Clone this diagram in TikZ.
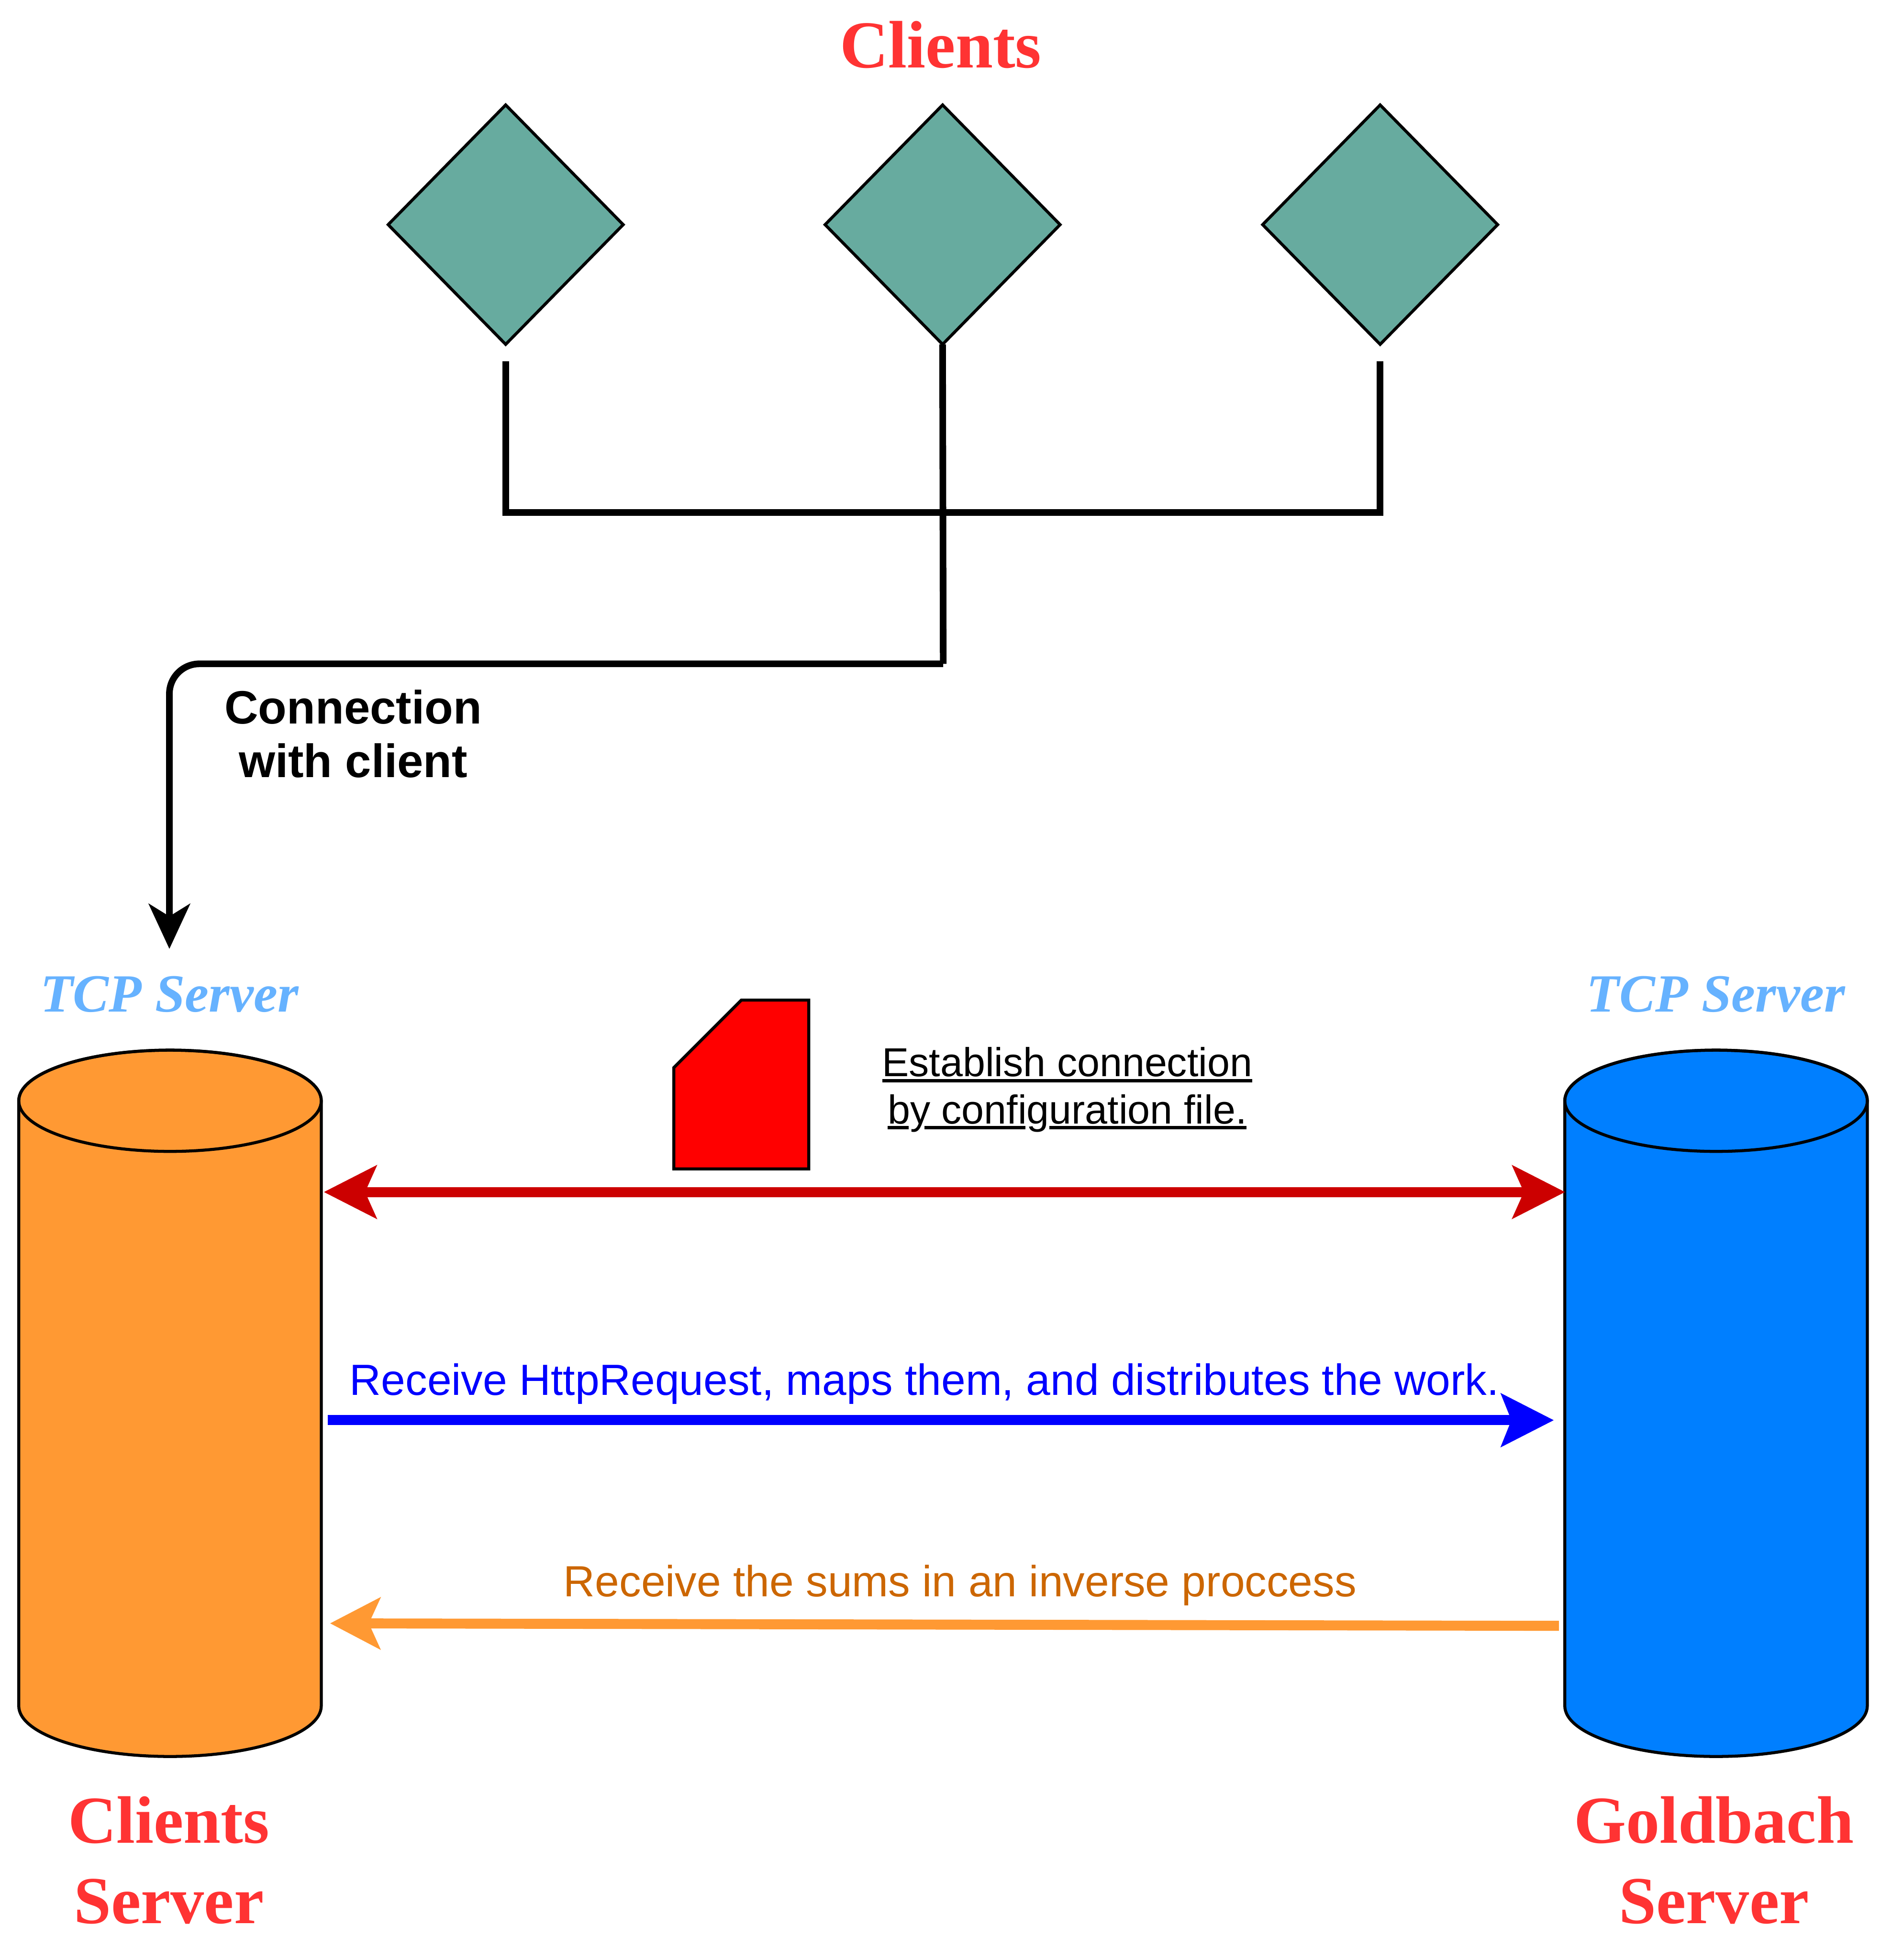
\documentclass[tikz,border=0pt]{standalone}
\usepackage{fontspec}
\setmainfont{Liberation Serif}
\setsansfont{Liberation Sans}
\usetikzlibrary{shapes.geometric,arrows.meta}
\definecolor{teal1}{HTML}{67AB9F}
\definecolor{orangeF}{HTML}{FF9933}
\definecolor{blueF}{HTML}{007FFF}
\definecolor{titleR}{HTML}{FF3333}
\definecolor{tcpB}{HTML}{66B2FF}
\definecolor{darkR}{HTML}{CC0000}
\definecolor{orangeT}{HTML}{CC6600}
\tikzset{
  clientd/.style={shape=diamond,draw=black,fill=teal1,line width=2.4pt,minimum width=188pt,minimum height=191.5pt,inner sep=0pt,outer sep=0pt},
  dbbody/.style={rectangle,minimum width=242pt,minimum height=565pt,inner sep=0pt,outer sep=0pt},
  dbline/.style={draw=black,line width=2.4pt},
  title/.style={font=\fontsize{53.7}{64.5}\selectfont\bfseries,text=titleR,align=center,inner sep=0pt},
  tcp/.style={font=\fontsize{43}{50}\selectfont\bfseries\itshape,text=tcpB,inner sep=0pt,anchor=base},
  wire/.style={line width=5.3pt,draw=black},
  lab/.style={font=\sffamily\fontsize{34.9}{38}\selectfont,inner sep=0pt,align=center},
  labcfg/.style={font=\sffamily\fontsize{32.3}{38}\selectfont,inner sep=0pt,align=center},
  ulrule/.style={draw=black,line width=2.7pt},
  tipblack/.style={-{Stealth[length=36pt,width=33pt,inset=10pt]}},
}
\begin{document}
\begin{tikzpicture}[x=1pt,y=-1pt]
\useasboundingbox (0,0) rectangle (1522,1567.8);
% clients
\node[title,anchor=base] (tclients) at (752.5,54) {Clients};
\node[clientd] (d1) at (404.5,179.7) {};
\node[clientd] (d2) at (754,179.7) {};
\node[clientd] (d3) at (1104,179.7) {};
% wires
\coordinate (w1) at (404.5,289);
\coordinate (w3) at (1104,289);
\coordinate (wm) at (754.5,531);
\coordinate (tipc) at (135.5,759);
\draw[wire,line join=miter] (w1) -- (404.5,410) -- (1104,410) -- (w3);
\draw[wire] (d2.south) -- (wm);
\draw[wire,tipblack,rounded corners=24pt] (wm) -- (135.5,531) -- (tipc);
\node[font=\sffamily\bfseries\fontsize{37.4}{43}\selectfont,inner sep=0pt,align=center] (conn) at (282.5,587) {Connection\\with client};
% cylinders
\node[dbbody] (cs) at (136,1122.5) {};
\node[dbbody] (gs) at (1372.7,1122.5) {};
\foreach \cx/\cc in {136/orangeF,1372.7/blueF}{
  \draw[dbline,fill=\cc] (\cx-121,880.5) arc[start angle=180,end angle=0,x radius=121pt,y radius=40.5pt]
    -- (\cx+121,1364.5) arc[start angle=0,end angle=-180,x radius=121pt,y radius=40.5pt] -- cycle;
  \draw[dbline] (\cx-121,880.5) arc[start angle=180,end angle=540,x radius=121pt,y radius=40.5pt];
}
\node[tcp] (tcp1) at (135.5,809.5) {TCP Server};
\node[tcp] (tcp2) at (1372.5,809.5) {TCP Server};
\node[title] (t1) at (135,1488) {Clients\\Server};
\node[title] (t2) at (1371,1488) {Goldbach\\Server};
% file
\draw[draw=black,fill=red,line width=2.4pt] (539,854) -- (593,800) -- (647,800) -- (647,935) -- (539,935) -- cycle;
\node[labcfg] (cfg) at (853.7,871.5) {Establish connection\\by configuration file.};
\draw[ulrule] (705.8,864.4) -- (1001.7,864.4);
\draw[ulrule] (710.1,902.1) -- (726.8,902.1);
\draw[ulrule] (739.4,902.1) -- (820.1,902.1);
\draw[ulrule] (839.2,902.1) -- (997,902.1);
% arrows
\coordinate (r1) at (259,953.5);
\coordinate (r2) at (1252,953.5);
\draw[darkR,line width=8pt,{Stealth[length=42pt,width=42pt,inset=9pt]}-{Stealth[length=42pt,width=42pt,inset=9pt]}] (r1) -- (r2);
\coordinate (b1) at (262,1136);
\coordinate (b2) at (1243,1136);
\draw[blue,line width=8pt,-{Stealth[length=42pt,width=42pt,inset=8pt]}] (b1) -- (b2);
\node[lab,text=blue,anchor=base] (lb) at (739.5,1116) {Receive HttpRequest, maps them, and distributes the work.};
\coordinate (o1) at (1247,1300.5);
\coordinate (o2) at (264,1298.5);
\draw[orangeF,line width=8pt,-{Stealth[length=40pt,width=41pt,inset=9pt]}] (o1) -- (o2);
\node[lab,text=orangeT,anchor=base] (lo) at (768,1277) {Receive the sums in an inverse proccess};
\end{tikzpicture}
\end{document}
